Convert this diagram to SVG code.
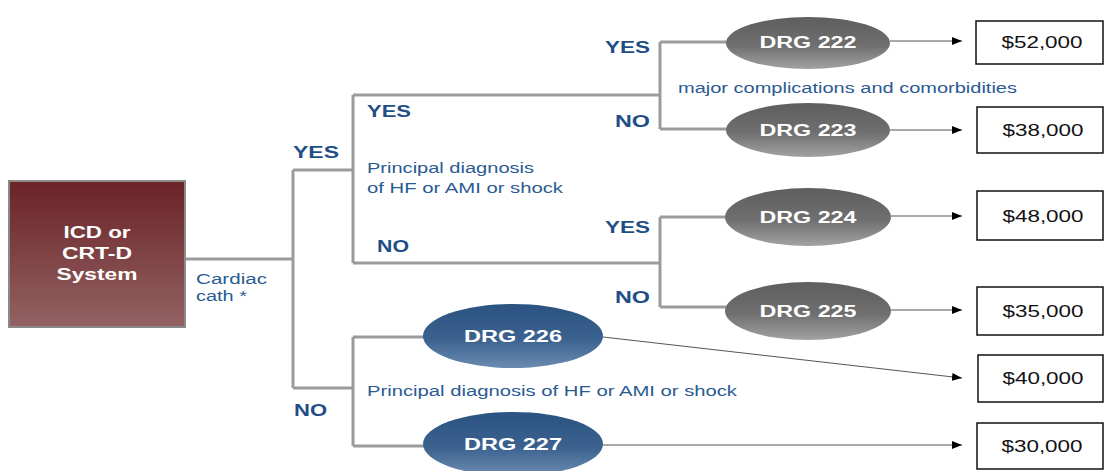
<svg xmlns="http://www.w3.org/2000/svg" width="1108" height="471" viewBox="0 0 1108 471">
<defs>
<linearGradient id="gBox" x1="0" y1="0" x2="0" y2="1"><stop offset="0" stop-color="#6a2326"/><stop offset="1" stop-color="#936262"/></linearGradient>
<linearGradient id="gGray" x1="0" y1="0" x2="0" y2="1"><stop offset="0" stop-color="#5e5e5e"/><stop offset="0.55" stop-color="#6f6f6f"/><stop offset="1" stop-color="#a2a2a2"/></linearGradient>
<linearGradient id="gBlue" x1="0" y1="0" x2="0" y2="1"><stop offset="0" stop-color="#2b5381"/><stop offset="0.55" stop-color="#3b628f"/><stop offset="1" stop-color="#6b8bb1"/></linearGradient>
<marker id="arr" viewBox="0 0 10 10" refX="10" refY="5" markerWidth="10" markerHeight="10" markerUnits="userSpaceOnUse" orient="auto"><path d="M0,1 L10,5 L0,9 z" fill="#000"/></marker>
</defs>
<style>
.tree{fill:none;stroke:#9b9b9b;stroke-width:3}
.arrow{fill:none;stroke:#555;stroke-width:1;marker-end:url(#arr)}
.lbl{font-family:"Liberation Sans",Arial,sans-serif;font-weight:bold;font-size:16px;fill:#1f4e86}
.note{font-family:"Liberation Sans",Arial,sans-serif;font-size:14px;fill:#2a5a92}
.drg{font-family:"Liberation Sans",Arial,sans-serif;font-weight:bold;font-size:16px;fill:#fff;text-anchor:middle}
.money{font-family:"Liberation Sans",Arial,sans-serif;font-size:17px;fill:#111;text-anchor:middle}
.mbox{fill:#fff;stroke:#111;stroke-width:1.5}
</style>
<g id="connectors">
<path class="tree" d="M185,259 H293 M293,170 V388 M293,170 H353 M353,95 V263 M353,95 H660 M353,263 H660 M660,42 V129 M660,42 H728 M660,129 H728 M660,217 V307 M660,217 H727 M660,307 H727 M293,388 H353 M353,337 V446 M353,337 H425 M353,446 H425"/>
<path class="arrow" d="M890,41 H962"/>
<path class="arrow" d="M890,130 H962"/>
<path class="arrow" d="M891,216 H962"/>
<path class="arrow" d="M891,310 H962"/>
<path class="arrow" d="M603,337 L962,378"/>
<path class="arrow" d="M603,445 H962"/>
</g>
<g id="labels">
<text class="lbl" x="605" y="53" textLength="45" lengthAdjust="spacingAndGlyphs">YES</text>
<text class="lbl" x="615" y="127" textLength="35" lengthAdjust="spacingAndGlyphs">NO</text>
<text class="note" x="678" y="93" textLength="339" lengthAdjust="spacingAndGlyphs">major complications and comorbidities</text>
<text class="lbl" x="367" y="117" textLength="44" lengthAdjust="spacingAndGlyphs">YES</text>
<text class="note" x="367" y="173" textLength="167" lengthAdjust="spacingAndGlyphs">Principal diagnosis</text>
<text class="note" x="367" y="193" textLength="196" lengthAdjust="spacingAndGlyphs">of HF or AMI or shock</text>
<text class="lbl" x="377" y="252" textLength="32" lengthAdjust="spacingAndGlyphs">NO</text>
<text class="lbl" x="293" y="158" textLength="46" lengthAdjust="spacingAndGlyphs">YES</text>
<text class="lbl" x="605" y="233" textLength="45" lengthAdjust="spacingAndGlyphs">YES</text>
<text class="lbl" x="615" y="303" textLength="35" lengthAdjust="spacingAndGlyphs">NO</text>
<text class="lbl" x="294" y="416" textLength="33" lengthAdjust="spacingAndGlyphs">NO</text>
<text class="note" x="367" y="396" textLength="370" lengthAdjust="spacingAndGlyphs">Principal diagnosis of HF or AMI or shock</text>
<text class="note" x="196" y="284" textLength="71" lengthAdjust="spacingAndGlyphs">Cardiac</text>
<text class="note" x="196" y="301" textLength="51" lengthAdjust="spacingAndGlyphs">cath *</text>
</g>
<g id="root">
<rect x="9" y="181" width="176" height="146" fill="url(#gBox)" stroke="#8a8a8a" stroke-width="2"/>
<text class="drg" x="97" y="238" textLength="67" lengthAdjust="spacingAndGlyphs">ICD or</text>
<text class="drg" x="97" y="259" textLength="70" lengthAdjust="spacingAndGlyphs">CRT-D</text>
<text class="drg" x="97" y="280" textLength="81" lengthAdjust="spacingAndGlyphs">System</text>
</g>
<g id="drg222"><ellipse cx="808" cy="43" rx="82" ry="26" fill="url(#gGray)"/><text class="drg" x="808" y="48" textLength="97" lengthAdjust="spacingAndGlyphs">DRG 222</text></g>
<g id="drg223"><ellipse cx="808" cy="130" rx="82" ry="27" fill="url(#gGray)"/><text class="drg" x="808" y="136" textLength="97" lengthAdjust="spacingAndGlyphs">DRG 223</text></g>
<g id="drg224"><ellipse cx="808" cy="217" rx="83" ry="29" fill="url(#gGray)"/><text class="drg" x="808" y="223" textLength="97" lengthAdjust="spacingAndGlyphs">DRG 224</text></g>
<g id="drg225"><ellipse cx="808" cy="311" rx="83" ry="29" fill="url(#gGray)"/><text class="drg" x="808" y="317" textLength="97" lengthAdjust="spacingAndGlyphs">DRG 225</text></g>
<g id="drg226"><ellipse cx="513" cy="336" rx="90" ry="32" fill="url(#gBlue)"/><text class="drg" x="513" y="342" font-size="17" textLength="98" lengthAdjust="spacingAndGlyphs">DRG 226</text></g>
<g id="drg227"><ellipse cx="513" cy="444" rx="90" ry="32" fill="url(#gBlue)"/><text class="drg" x="513" y="450" font-size="17" textLength="98" lengthAdjust="spacingAndGlyphs">DRG 227</text></g>
<g id="p52"><rect class="mbox" x="976" y="21" width="127" height="43"/><text class="money" x="1042" y="48" textLength="81" lengthAdjust="spacingAndGlyphs">$52,000</text></g>
<g id="p38"><rect class="mbox" x="977" y="107" width="126" height="46"/><text class="money" x="1043" y="136" textLength="81" lengthAdjust="spacingAndGlyphs">$38,000</text></g>
<g id="p48"><rect class="mbox" x="977" y="191" width="126" height="49"/><text class="money" x="1043" y="222" textLength="81" lengthAdjust="spacingAndGlyphs">$48,000</text></g>
<g id="p35"><rect class="mbox" x="977" y="287" width="126" height="48"/><text class="money" x="1043" y="317" textLength="81" lengthAdjust="spacingAndGlyphs">$35,000</text></g>
<g id="p40"><rect class="mbox" x="978" y="355" width="125" height="47"/><text class="money" x="1043" y="384" textLength="81" lengthAdjust="spacingAndGlyphs">$40,000</text></g>
<g id="p30"><rect class="mbox" x="977" y="423" width="126" height="46"/><text class="money" x="1042" y="452" textLength="81" lengthAdjust="spacingAndGlyphs">$30,000</text></g>
</svg>
